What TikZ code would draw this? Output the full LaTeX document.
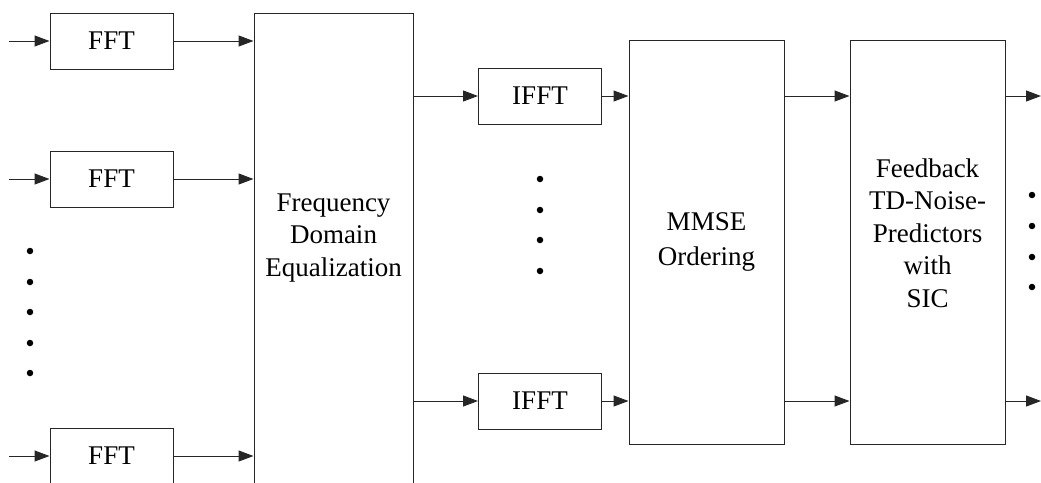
\documentclass[tikz,border=0pt]{standalone}
\usepackage{fontspec}
\setmainfont{Liberation Serif}
\usetikzlibrary{arrows.meta}

\begin{document}
\begin{tikzpicture}[x=1pt,y=-1pt,
   line width=1pt,draw=black!85,
   every node/.style={font=\fontsize{27}{32.5}\selectfont},
   blk/.style={draw=black!85,minimum width=123pt,minimum height=56pt,inner sep=0pt},
   tall/.style={draw=black!85,minimum width=155pt,minimum height=404pt,align=center,inner sep=0pt},
   sig/.style={-{Triangle[length=15pt,width=11pt]}},
   dot/.style={fill=black,circle,inner sep=0pt,minimum size=6.5pt}]
   \clip (0,0) rectangle (1041,482);
   % left column
   \node[blk] (fft1) at (111.5,41)  {FFT};
   \node[blk] (fft2) at (111.5,179) {FFT};
   \node[blk] (fft3) at (111.5,456) {FFT};
   \coordinate (in1) at (9,41);
   \coordinate (in2) at (9,179);
   \coordinate (in3) at (9,456);
   \node[draw=black!85,minimum width=159pt,minimum height=500pt,inner sep=0pt,
         label={[align=center,yshift=25pt]center:Frequency\\Domain\\Equalization}]
         (fde) at (333.5,263) {};
   % middle
   \node[blk] (ifft1) at (540,96)  {IFFT};
   \node[blk] (ifft2) at (540,401) {IFFT};
   \node[tall,font=\fontsize{27}{35}\selectfont] (mmse) at (706.5,242) {MMSE\\Ordering};
   \node[tall,label={[align=center,yshift=9pt]center:Feedback\\TD-Noise-\\Predictors\\with\\SIC}]
         (fb) at (927.5,242) {};
   \coordinate (out1) at (1041,96);
   \coordinate (out2) at (1041,401);
   % connectors
   \foreach \i in {1,2,3} {
     \draw[sig] (in\i) -- (fft\i.west);
     \draw[sig] (fft\i.east) -- (fde.west |- fft\i);
   }
   \foreach \i in {1,2} {
     \draw[sig] (fde.east |- ifft\i) -- (ifft\i.west);
     \draw[sig] (ifft\i.east) -- (mmse.west |- ifft\i);
     \draw[sig] (mmse.east |- ifft\i) -- (fb.west |- ifft\i);
     \draw[sig] (fb.east |- ifft\i) -- (out\i);
   }
   % dots
   \foreach \y in {251,282,312,343,373} \node[dot] at (30,\y) {};
   \foreach \y in {179,210,240,271} \node[dot] at (540,\y) {};
   \foreach \y in {195,226,257,287} \node[dot] at (1032,\y) {};
\end{tikzpicture}
\end{document}
